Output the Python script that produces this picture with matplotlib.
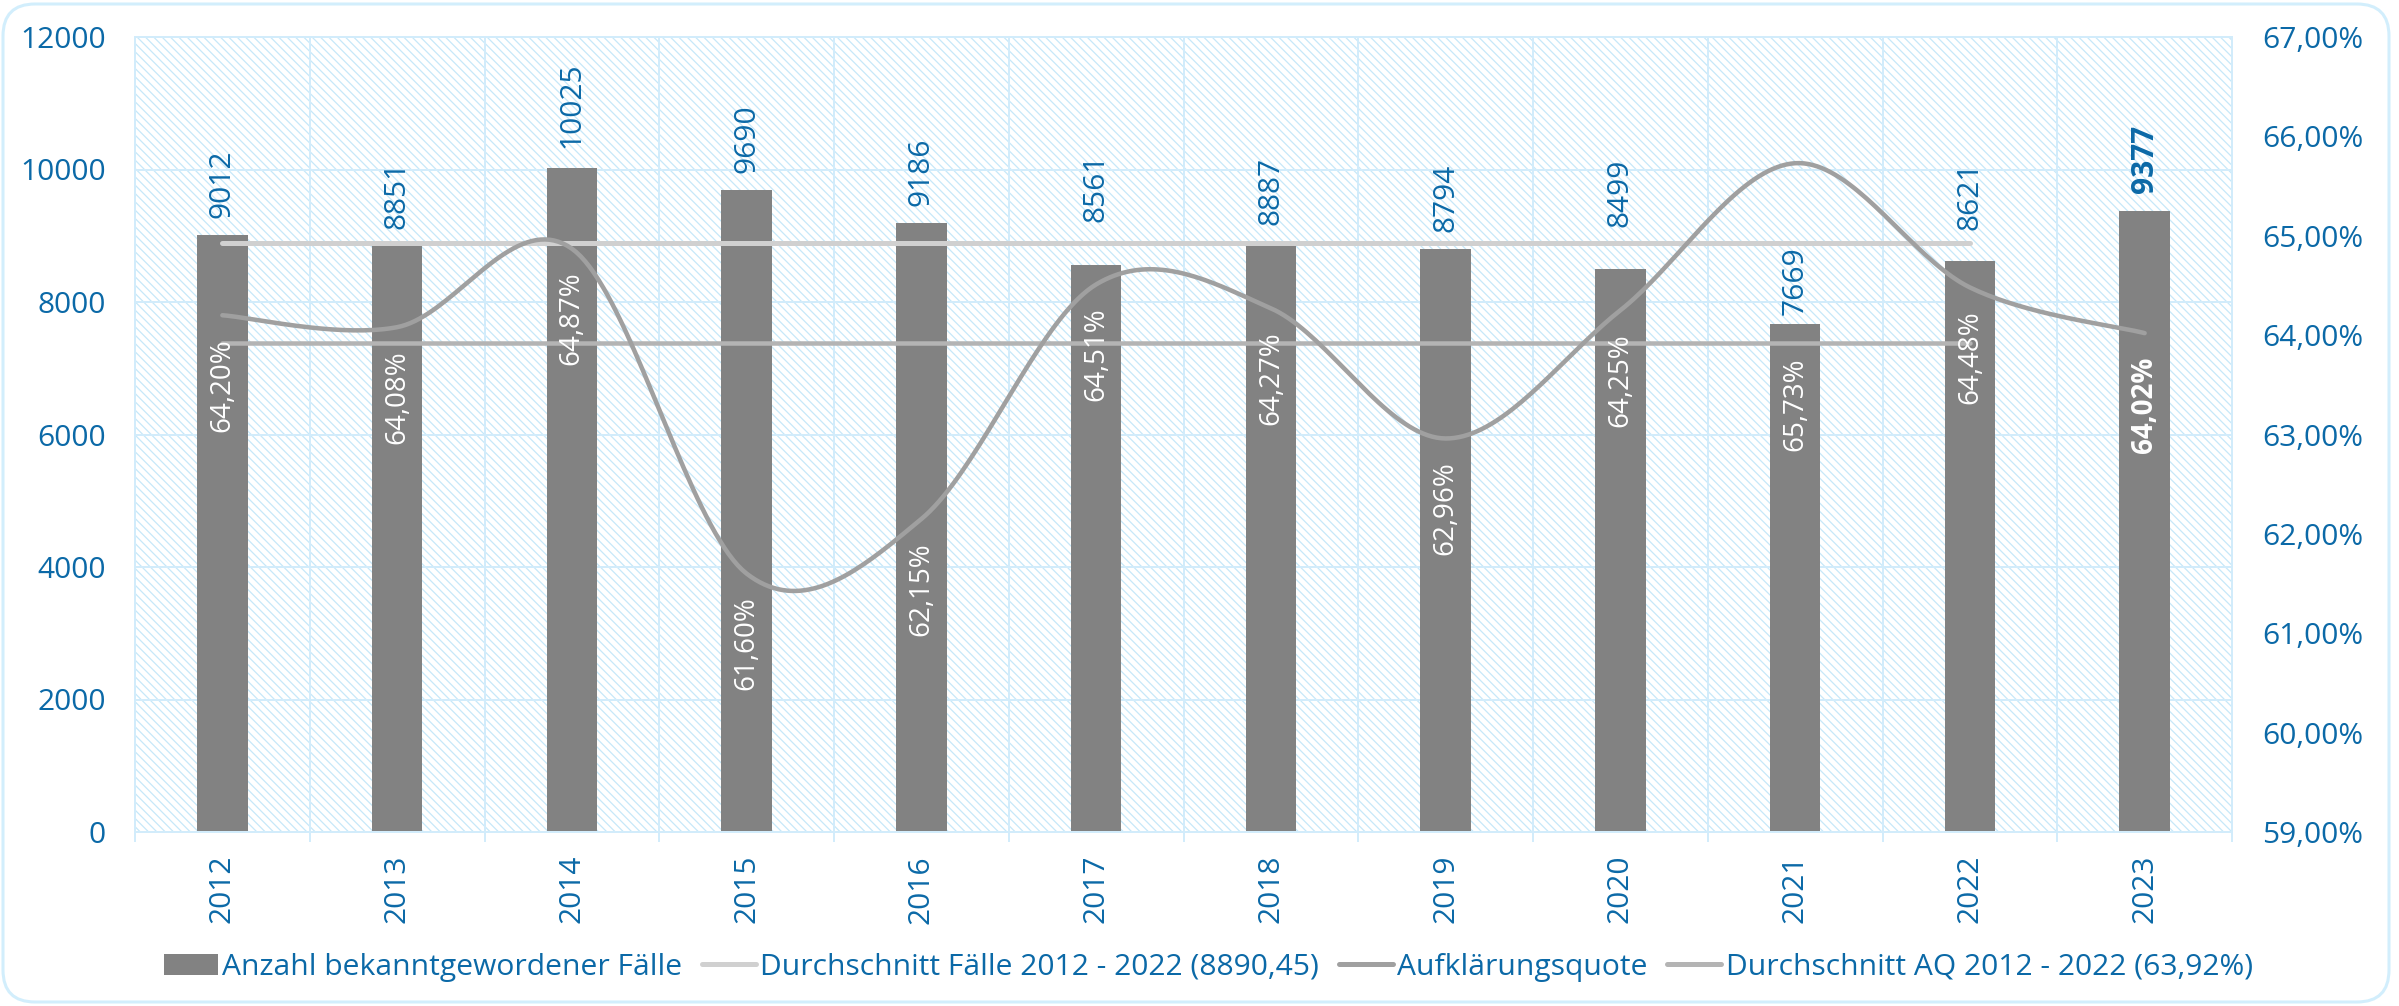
import numpy as np
import matplotlib
matplotlib.use("Agg")
import matplotlib.pyplot as plt
from matplotlib.patches import Rectangle, FancyBboxPatch, Patch
from matplotlib.lines import Line2D
from matplotlib.transforms import IdentityTransform

# ---------------- data ----------------
years = ["2012", "2013", "2014", "2015", "2016", "2017", "2018", "2019", "2020", "2021", "2022", "2023"]
cases = [9012, 8851, 10025, 9690, 9186, 8561, 8887, 8794, 8499, 7669, 8621, 9377]
rate = [64.20, 64.08, 64.87, 61.60, 62.15, 64.51, 64.27, 62.96, 64.25, 65.73, 64.48, 64.02]
avg_cases = 8890.45
avg_rate = 63.92
avg_years = 11  # 2012 - 2022
left_ticks = [0, 2000, 4000, 6000, 8000, 10000, 12000]
right_ticks = [59, 60, 61, 62, 63, 64, 65, 66, 67]
legend_labels = ["Anzahl bekanntgewordener Fälle",
                 "Durchschnitt Fälle 2012 - 2022 (8890,45)",
                 "Aufklärungsquote",
                 "Durchschnitt AQ 2012 - 2022 (63,92%)"]

# label offsets (pixels) as placed in the original
case_label_off = [17, 17, 20, 17, 17, 43, 18, 17, 42, 9, 31, 18]
rate_label_off = [23, 23, 23, 23, 23, 23, 23, 23, 23, 194, 23, 23]

# ---------------- style ----------------
plt.rcParams["font.family"] = ["Open Sans", "DejaVu Sans"]
plt.rcParams["hatch.linewidth"] = 0.9
BLUE = "#0b69a7"
BAR = "#828282"
GRID = "#d2ecfb"
HATCH = "#c6e8f9"
C_AVG_CASES = "#d0d0d0"
C_RATE = "#a0a0a0"
C_AVG_RATE = "#b4b4b4"
PX = 0.72  # points per pixel at dpi 100

W, H = 2399, 1006
fig = plt.figure(figsize=(W / 100, H / 100), dpi=100)
fig.patch.set_facecolor("white")

# outer rounded border
border = FancyBboxPatch((3, 4), W - 13, H - 8,
                        boxstyle="round,pad=0,rounding_size=32",
                        transform=IdentityTransform(), facecolor="none",
                        edgecolor="#d2eefc", linewidth=2.2)
fig.patches.append(border)

L, R, T, B = 135, 2232, 37, 832
ax = fig.add_axes([L / W, 1 - B / H, (R - L) / W, (B - T) / H])
ax.patch.set_visible(False)
ax.add_patch(Rectangle((0, 0), 1, 1, transform=ax.transAxes, facecolor="white",
                       edgecolor=HATCH, linewidth=0, hatch="\\\\\\\\", zorder=0.1))

x = np.arange(len(years))
ax.set_xlim(-0.5, len(years) - 0.5)
ax.set_ylim(left_ticks[0], left_ticks[-1])

ax.bar(x, cases, width=0.29, color=BAR, zorder=2)
ax.plot([x[0], x[avg_years - 1]], [avg_cases, avg_cases], color=C_AVG_CASES,
        lw=5 * PX, solid_capstyle="round", zorder=3)

for i, v in enumerate(cases):
    bold = i == len(cases) - 1
    ax.annotate(str(v), xy=(x[i], v), xytext=(0, case_label_off[i] * PX),
                textcoords="offset points", rotation=90, ha="center", va="bottom",
                color=BLUE, fontsize=21.5, fontweight="bold" if bold else "normal",
                zorder=5)

# grid / axes
ax.set_yticks(left_ticks)
ax.set_yticklabels([str(t) for t in left_ticks])
ax.set_xticks(x)
ax.set_xticklabels(years, rotation=90)
ax.set_xticks(np.arange(-0.5, len(years)), minor=True)
ax.grid(True, axis="y", which="major", color=GRID, lw=2 * PX, zorder=0.5)
ax.grid(True, axis="x", which="minor", color=GRID, lw=2 * PX, zorder=0.5)
ax.set_axisbelow(True)
ax.tick_params(axis="y", length=0, pad=21, labelsize=21.5, labelcolor=BLUE)
ax.tick_params(axis="x", which="major", length=0, pad=16.5, labelsize=21.5, labelcolor=BLUE)
ax.tick_params(axis="x", which="minor", length=10 * PX, width=2 * PX, color=GRID)
for s in ax.spines.values():
    s.set_color(GRID)
    s.set_linewidth(2 * PX)

# right axis
ax2 = ax.twinx()
ax2.set_ylim(right_ticks[0], right_ticks[-1])
ax2.set_yticks(right_ticks)
ax2.set_yticklabels([f"{t:.2f}%".replace(".", ",") for t in right_ticks])
ax2.tick_params(axis="y", length=0, pad=21.5, labelsize=21.5, labelcolor=BLUE)
for s in ax2.spines.values():
    s.set_visible(False)


def excel_smooth(xs, ys, n=40):
    P = np.column_stack([np.asarray(xs, float), np.asarray(ys, float)])
    out = []
    for i in range(len(P) - 1):
        p0 = P[i - 1] if i > 0 else P[i]
        p1, p2 = P[i], P[i + 1]
        p3 = P[i + 2] if i + 2 < len(P) else P[i + 1]
        c1 = p1 + (p2 - p0) / 6.0
        c2 = p2 - (p3 - p1) / 6.0
        t = np.linspace(0, 1, n)[:, None]
        seg = (1 - t) ** 3 * p1 + 3 * (1 - t) ** 2 * t * c1 + 3 * (1 - t) * t ** 2 * c2 + t ** 3 * p2
        out.append(seg if i == 0 else seg[1:])
    return np.vstack(out)


ax2.plot([x[0], x[avg_years - 1]], [avg_rate, avg_rate], color=C_AVG_RATE,
         lw=4.5 * PX, solid_capstyle="round", zorder=3)
sm = excel_smooth(x, rate)
ax2.plot(sm[:, 0], sm[:, 1], color=C_RATE, lw=4.5 * PX, solid_capstyle="round", zorder=4)

for i, v in enumerate(rate):
    bold = i == len(rate) - 1
    ax2.annotate(f"{v:.2f}%".replace(".", ","), xy=(x[i], v),
                 xytext=(0, -rate_label_off[i] * PX), textcoords="offset points",
                 rotation=90, ha="center", va="top", color="white", fontsize=20,
                 fontweight="bold" if bold else "normal", zorder=6)

# legend
handles = [Patch(facecolor=BAR, edgecolor="none"),
           Line2D([], [], color=C_AVG_CASES, lw=5 * PX, solid_capstyle="round"),
           Line2D([], [], color=C_RATE, lw=5 * PX, solid_capstyle="round"),
           Line2D([], [], color=C_AVG_RATE, lw=5 * PX, solid_capstyle="round")]
fig.legend(handles, legend_labels, loc="center", bbox_to_anchor=(0.5037, 1 - 967 / H),
           ncol=4, frameon=False, fontsize=21.6, labelcolor=BLUE,
           handlelength=1.8, handletextpad=0.15, columnspacing=0.65)

fig.savefig("out.png", dpi=100, facecolor="white")
